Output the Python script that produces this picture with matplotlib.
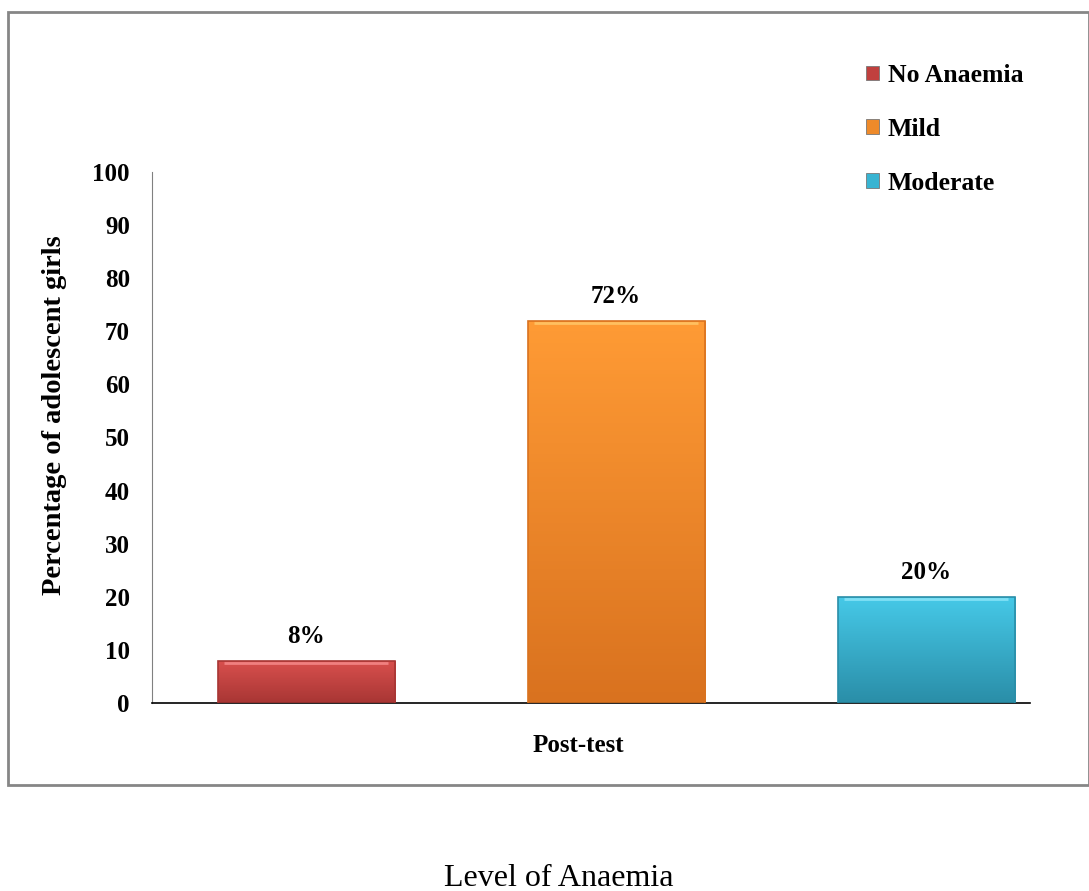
"""
bar chart: level of anaemia, post-test
"""

import numpy as np
import matplotlib
matplotlib.use('Agg')
import matplotlib.pyplot as plt
from matplotlib.patches import Patch, Rectangle
from matplotlib.colors import LinearSegmentedColormap

categories = ['No Anaemia', 'Mild', 'Moderate']
values = [8, 72, 20]
value_labels = ['8%', '72%', '20%']
yticks = [0, 10, 20, 30, 40, 50, 60, 70, 80, 90, 100]

# (top, bottom) shades for the bar gradients
shades = [('#D9504E', '#A83634'), ('#FF9B35', '#D9721F'), ('#46C9E8', '#2A8EA8')]
highlights = ['#F08080', '#FFC060', '#80E0F5']
legend_colors = ['#C0403E', '#EE8A2A', '#38B4D2']

plt.rcParams['font.family'] = ['Liberation Serif', 'DejaVu Serif']

fig = plt.figure(figsize=(10.89, 8.91), dpi=100)
ax = fig.add_axes([0.1396, 0.211, 0.8062, 0.596])

x = np.arange(len(categories))
width = 0.571
bars = ax.bar(x, values, width, color='none', edgecolor='none', zorder=2)
for b, (top, bot), hl in zip(bars, shades, highlights):
    cmap = LinearSegmentedColormap.from_list('g', [bot, top])
    x0, y0 = b.get_x(), b.get_y()
    w, h = b.get_width(), b.get_height()
    grad = np.linspace(0, 1, 100).reshape(-1, 1)
    im = ax.imshow(grad, extent=(x0, x0 + w, y0, y0 + h), origin='lower',
                   cmap=cmap, aspect='auto', zorder=2)
    im.set_clip_path(b)
    # light bevel at top, darker outline
    ax.plot([x0 + 0.02, x0 + w - 0.02], [y0 + h - 0.4, y0 + h - 0.4],
            color=hl, lw=2, zorder=3, solid_capstyle='butt')
    ax.add_patch(Rectangle((x0, y0), w, h, fill=False, edgecolor=bot,
                           lw=1.2, zorder=4))

for xi, v, lab in zip(x, values, value_labels):
    ax.text(xi, v + 2.4, lab, ha='center', va='bottom', fontsize=18,
            fontweight='bold')

ax.set_xlim(-0.497, 2.335)
ax.set_ylim(0, 100)
ax.set_yticks(yticks)
ax.set_yticklabels([str(t) for t in yticks], fontsize=18, fontweight='bold')
ax.tick_params(axis='y', length=0, pad=16)
ax.set_xticks([])
for s in ['top', 'right']:
    ax.spines[s].set_visible(False)
ax.spines['left'].set_color('#808080')
ax.spines['bottom'].set_color('black')
ax.spines['bottom'].set_linewidth(1.2)
ax.set_ylabel('Percentage of adolescent girls', fontsize=20.5,
              fontweight='bold', va='center')
ax.yaxis.set_label_coords(-0.111, 0.542)

ax.text(0.486, -0.08, 'Post-test', transform=ax.transAxes, ha='center',
        va='center', fontsize=18, fontweight='bold')

handles = [Patch(facecolor=c, edgecolor='#777777', lw=0.6) for c in legend_colors]
leg = ax.legend(handles, categories, loc='upper left',
                bbox_to_anchor=(866 / 1089, 1 - 64 / 891),
                bbox_transform=fig.transFigure, frameon=False,
                prop={'size': 18.5, 'weight': 'bold'}, handlelength=0.5,
                handleheight=0.5, handletextpad=0.35, labelspacing=1.2,
                borderpad=0, borderaxespad=0)

# outer chart frame
fig.patches.append(Rectangle((8 / 1089, 1 - 785 / 891), 1 - 8 / 1089,
                             (785 - 12) / 891, transform=fig.transFigure,
                             fill=False, edgecolor='#868686', lw=2))

fig.text(559 / 1089, 1 - 878 / 891, 'Level of Anaemia', ha='center',
         va='center', fontsize=23)

fig.savefig('out.png', dpi=100)
